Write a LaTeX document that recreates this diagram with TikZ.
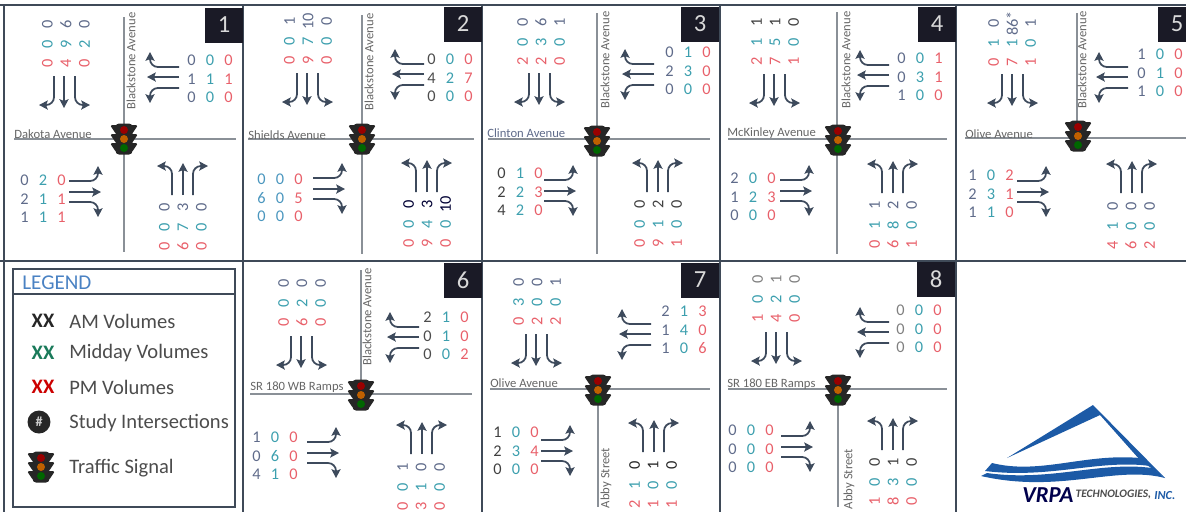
\documentclass[tikz,border=0pt]{standalone}
\usepackage{fontspec}
\setmainfont{Carlito}
\usepackage{xcolor}
\usepackage{tikz}
\usetikzlibrary{arrows.meta,positioning}

\definecolor{amcol}{HTML}{5F6B8A}
\definecolor{midcol}{HTML}{3C9FAE}
\definecolor{pmcol}{HTML}{E8606A}
\definecolor{turncol}{HTML}{3D4A5C}
\definecolor{roadcol}{HTML}{8A9097}
\definecolor{framecol}{HTML}{3F4A58}
\definecolor{logoblue}{HTML}{1C5AA6}
\definecolor{legendblue}{HTML}{4A82C3}
\definecolor{boxcol}{HTML}{1A1A26}
\definecolor{keygreen}{HTML}{1A7A5A}
\definecolor{paleblue}{HTML}{4A96BE}

% volumes read across: AM, midday, PM by column
\newcommand{\hvols}[4]{
  \foreach \v [count=\i from 0] in {#4}{
    \pgfmathtruncatemacro\volcol{mod(\i,3)}
    \pgfmathtruncatemacro\volrow{div(\i,3)}
    \node[vol, vol\volcol] (#1-\i) at ({#2+(\volcol-1)*18.5},{#3+(\volrow-1)*18.5}) {\v};
  }
}
% volumes turned on their side: AM, midday, PM by row
\newcommand{\vvols}[4]{
  \foreach \v [count=\i from 0] in {#4}{
    \pgfmathtruncatemacro\volcol{mod(\i,3)}
    \pgfmathtruncatemacro\volrow{div(\i,3)}
    \node[vol, vol\volrow, rotate=90] (#1-\i) at ({#2+(\volcol-1)*18.5},{#3+(\volrow-1)*19.5}) {\v};
  }
}
\newcommand{\turns}[4]{
  \begin{scope}[shift={(#2,#3)},rotate=#4]
    \coordinate (#1-la) at (-10,0);
    \coordinate (#1-lb) at (-10,29);
    \coordinate (#1-lc) at (-25,29);
    \coordinate (#1-ca) at (0,0);
    \coordinate (#1-cb) at (0,32);
    \coordinate (#1-ra) at (11,0);
    \coordinate (#1-rb) at (11,29);
    \coordinate (#1-rc) at (26,29);
    \draw[turn] (#1-la) -- (#1-lb) -- (#1-lc);
    \draw[turn] (#1-ca) -- (#1-cb);
    \draw[turn] (#1-ra) -- (#1-rb) -- (#1-rc);
  \end{scope}
}
\newcommand{\trafficsignal}[3]{
  \begin{scope}[shift={(#2,#3)}]
    \foreach \y in {-9,0,9}
      \fill[black!85, rounded corners=1pt] (-14,\y-5) -- (14,\y-5) -- (8,\y+4) -- (-8,\y+4) -- cycle;
    \node[sigbody] (#1) at (0,0) {};
    \node[siglight, fill=red!60!black] (#1-r) at (0,-9) {};
    \node[siglight, fill=orange!75!black] (#1-a) at (0,0) {};
    \node[siglight, fill=green!40!black] (#1-g) at (0,9) {};
  \end{scope}
}
\newcommand{\arm}[4]{
  \coordinate (#1-#2) at (#3,#4);
  \draw[road] (#1-c) -- (#1-#2);
}

\begin{document}
\begin{tikzpicture}[
  x=0.02cm, y=-0.02cm,
  frame/.style={draw=framecol, line width=0.8pt},
  road/.style={draw=roadcol, line width=0.9pt},
  turn/.style={draw=turncol, line width=1pt, rounded corners=4.5pt,
    -{Stealth[length=5pt,width=5.2pt,inset=1pt]}},
  vol/.style={font=\fontsize{9.3}{10}\selectfont, inner sep=0pt},
  vol0/.style={text=amcol},
  vol1/.style={text=midcol},
  vol2/.style={text=pmcol},
  sigbody/.style={fill=black!85, rounded corners=2pt, inner sep=0pt,
    minimum width=0.34cm, minimum height=0.62cm},
  siglight/.style={circle, inner sep=0pt, minimum size=0.16cm},
  numbox/.style={fill=boxcol, text=white!85!black, inner sep=0pt,
    minimum width=0.76cm, minimum height=0.7cm,
    font=\fontsize{14}{16}\selectfont},
  street/.style={font=\fontsize{7.2}{8}\selectfont, text=black!60, inner sep=0pt},
  legendtxt/.style={font=\fontsize{11.7}{13}\selectfont, text=black!70, anchor=west, inner sep=0pt},
  legendkey/.style={font=\bfseries\fontsize{11.7}{13}\selectfont, inner sep=0pt}
]
\useasboundingbox (0,0) rectangle (1186,512);

\foreach \x in {4,243,482,720,956}
  \draw[frame] (\x,5) -- (\x,512);
\draw[frame] (0,5) -- (1186,5);
\draw[frame] (0,261) -- (1186,261);

% 1
\coordinate (p1-c) at (124,139);
\arm{p1}{n}{124}{17} \arm{p1}{s}{124}{252} \arm{p1}{w}{14}{139} \arm{p1}{e}{236}{139}
\trafficsignal{p1-sig}{124}{139}
\node[numbox] (p1-num) at (224,25) {1};
\node[street, anchor=west] (p1-ew) at (14,134) {Dakota Avenue};
\node[street, rotate=90] (p1-ns) at (131,61) {Blackstone Avenue};
\vvols{p1-nv}{66}{44}{0,6,0,0,9,2,0,4,0}
\hvols{p1-ev}{210}{79}{0,0,0,1,1,1,0,0,0}
\hvols{p1-wv}{43}{199}{0,2,0,2,1,1,1,1,1}
\vvols{p1-sv}{183}{227}{0,3,0,0,7,0,0,6,0}
\turns{p1-nt}{64}{76}{0}
\turns{p1-et}{179}{77}{-90}
\turns{p1-wt}{69}{192}{90}
\turns{p1-st}{183}{195}{180}

% 2
\coordinate (p2-c) at (362,139);
\arm{p2}{n}{362}{15} \arm{p2}{s}{362}{254} \arm{p2}{w}{248}{139} \arm{p2}{e}{474}{139}
\trafficsignal{p2-sig}{362}{139}
\node[numbox] (p2-num) at (463,24) {2};
\node[street, anchor=west] (p2-ew) at (248,135) {Shields Avenue};
\node[street, rotate=90] (p2-ns) at (369,62) {Blackstone Avenue};
\vvols{p2-nv}{308}{41}{1,10,0,0,7,0,0,9,0}
{\colorlet{amcol}{black!70}\hvols{p2-ev}{450}{78}{0,0,0,4,2,7,0,0,0}}
{\colorlet{amcol}{paleblue}\colorlet{midcol}{paleblue}\hvols{p2-wv}{280}{198}{0,0,0,6,0,5,0,0,0}}
{\colorlet{amcol}{black!80!blue}\vvols{p2-sv}{427}{224}{0,3,10,0,4,0,0,9,0}}
\turns{p2-nt}{307}{73}{0}
\turns{p2-et}{424}{74}{-90}
\turns{p2-wt}{313}{189}{90}
\turns{p2-st}{427}{192}{180}

% 3
\coordinate (p3-c) at (597,139);
\arm{p3}{n}{597}{13} \arm{p3}{s}{597}{254} \arm{p3}{w}{488}{139} \arm{p3}{e}{710}{139}
\trafficsignal{p3-sig}{597}{141}
\node[numbox] (p3-num) at (700,24) {3};
\node[street, anchor=west, text=amcol] (p3-ew) at (487,133) {Clinton Avenue};
\node[street, rotate=90] (p3-ns) at (605,60) {Blackstone Avenue};
\vvols{p3-nv}{541}{42}{0,6,1,0,3,0,2,2,0}
\hvols{p3-ev}{688}{71}{0,1,0,2,3,0,0,0,0}
{\colorlet{amcol}{black!75}\hvols{p3-wv}{520}{192}{0,1,0,2,2,3,4,2,0}}
{\colorlet{amcol}{black!75}\vvols{p3-sv}{658}{224}{0,2,0,0,1,0,0,9,1}}
\turns{p3-nt}{539}{73}{0}
\turns{p3-et}{654}{74}{-90}
\turns{p3-wt}{544}{191}{90}
\turns{p3-st}{658}{192}{180}

% 4
\coordinate (p4-c) at (837,139);
\arm{p4}{n}{837}{12} \arm{p4}{s}{837}{254} \arm{p4}{w}{728}{139} \arm{p4}{e}{947}{139}
\trafficsignal{p4-sig}{838}{140}
\node[numbox] (p4-num) at (937,24) {4};
\node[street, anchor=west] (p4-ew) at (727,133) {McKinley Avenue};
\node[street, rotate=90] (p4-ns) at (846,60) {Blackstone Avenue};
{\colorlet{amcol}{black!75}\vvols{p4-nv}{775}{42}{1,1,0,1,5,0,2,7,1}}
\hvols{p4-ev}{920}{77}{0,0,1,0,3,1,1,0,0}
\hvols{p4-wv}{753}{197}{2,0,0,1,2,3,0,0,0}
\vvols{p4-sv}{893}{225}{1,2,0,1,8,0,0,6,1}
\turns{p4-nt}{774}{74}{0}
\turns{p4-et}{889}{75}{-90}
\turns{p4-wt}{780}{191}{90}
\turns{p4-st}{893}{193}{180}

% 5
\coordinate (p5-c) at (1077,138);
\arm{p5}{n}{1077}{13} \arm{p5}{w}{965}{138} \arm{p5}{e}{1186}{138}
\trafficsignal{p5-sig}{1078}{136}
\node[numbox] (p5-num) at (1177,24) {5};
\node[street, anchor=west] (p5-ew) at (965,134) {Olive Avenue};
\node[street, rotate=90] (p5-ns) at (1082,60) {Blackstone Avenue};
\vvols{p5-nv}{1012}{43}{0,86*,1,1,1,0,0,7,1}
\hvols{p5-ev}{1160}{73}{1,0,0,0,1,0,1,0,0}
\hvols{p5-wv}{991}{194}{1,0,2,2,3,1,1,1,0}
\vvols{p5-sv}{1131}{226}{0,0,0,1,0,0,4,6,2}
\turns{p5-nt}{1012}{74}{0}
\turns{p5-et}{1128}{77}{-90}
\turns{p5-wt}{1017}{192}{90}
\turns{p5-st}{1132}{193}{180}

% legend
\node[draw=framecol, line width=0.8pt, minimum width=4.44cm, minimum height=4.76cm, inner sep=0pt] (legend) at (124,388) {};
\coordinate (legend-a) at (13,294);
\coordinate (legend-b) at (235,294);
\draw[frame] (legend-a) -- (legend-b);
\node[font=\fontsize{12}{14}\selectfont, text=legendblue, anchor=west, inner sep=0pt] (legend-title) at (22,283) {LEGEND};
\node[legendkey, text=black!85] (key-am) at (43,321) {XX};
\node[legendkey, text=keygreen] (key-mid) at (43,353) {XX};
\node[legendkey, text=red!80!black] (key-pm) at (43,387) {XX};
\node[circle, fill=black!85, text=white!80!black, inner sep=0pt, minimum size=0.46cm,
  font=\bfseries\fontsize{8}{9}\selectfont] (key-study) at (39,422) {\#};
\trafficsignal{key-sig}{41}{467}
\node[legendtxt] (txt-am) at (69,321) {AM Volumes};
\node[legendtxt] (txt-mid) at (69,353) {Midday Volumes};
\node[legendtxt] (txt-pm) at (69,387) {PM Volumes};
\node[legendtxt] (txt-study) at (69,423) {Study Intersections};
\node[legendtxt] (txt-sig) at (69,468) {Traffic Signal};

% 6
\coordinate (p6-c) at (361,394);
\arm{p6}{n}{361}{270} \arm{p6}{w}{250}{394} \arm{p6}{e}{472}{394}
\trafficsignal{p6-sig}{361}{395}
\node[numbox] (p6-num) at (463,280) {6};
\node[street, anchor=west] (p6-ew) at (250,387) {SR 180 WB Ramps};
\node[street, rotate=90] (p6-ns) at (367,317) {Blackstone Avenue};
\vvols{p6-nv}{302}{303}{0,0,0,0,2,0,0,6,0}
{\colorlet{amcol}{black!70}\hvols{p6-ev}{446}{336}{2,1,0,0,1,0,0,0,2}}
\hvols{p6-wv}{275}{456}{1,0,0,0,6,0,4,1,0}
\vvols{p6-sv}{421}{487}{1,0,0,0,1,0,0,3,0}
\turns{p6-nt}{301}{336}{0}
\turns{p6-et}{419}{337}{-90}
\turns{p6-wt}{307}{453}{90}
\turns{p6-st}{422}{454}{180}

% 7
\coordinate (p7-c) at (598,389);
\arm{p7}{s}{598}{507} \arm{p7}{w}{490}{389} \arm{p7}{e}{710}{389}
\trafficsignal{p7-sig}{598}{390}
\node[numbox] (p7-num) at (700,280) {7};
\node[street, anchor=west] (p7-ew) at (490,383) {Olive Avenue};
\node[street, rotate=90] (p7-ns) at (606,478) {Abby Street};
\vvols{p7-nv}{537}{302}{0,0,1,3,0,0,0,2,2}
\hvols{p7-ev}{684}{330}{2,1,3,1,4,0,1,0,6}
{\colorlet{amcol}{black!75}\hvols{p7-wv}{516}{451}{1,0,0,2,3,4,0,0,0}}
{\colorlet{amcol}{black!85}\vvols{p7-sv}{653}{485}{0,1,0,1,0,0,2,1,1}}
\turns{p7-nt}{536}{334}{0}
\turns{p7-et}{651}{334}{-90}
\turns{p7-wt}{541}{451}{90}
\turns{p7-st}{654}{452}{180}

% 8
\coordinate (p8-c) at (838,389);
\arm{p8}{s}{838}{507} \arm{p8}{w}{728}{389} \arm{p8}{e}{947}{389}
\trafficsignal{p8-sig}{838}{390}
\node[numbox] (p8-num) at (936,279) {8};
\node[street, anchor=west] (p8-ew) at (727,384) {SR 180 EB Ramps};
\node[street, rotate=90] (p8-ns) at (849,479) {Abby Street};
{\colorlet{amcol}{black!50}\vvols{p8-nv}{776}{299}{0,1,0,0,2,0,1,4,0}}
{\colorlet{amcol}{black!50}\hvols{p8-ev}{919}{329}{0,0,0,0,0,0,0,0,0}}
\hvols{p8-wv}{751}{449}{0,0,0,0,0,0,0,0,0}
{\colorlet{amcol}{black!75}\vvols{p8-sv}{893}{482}{0,1,0,0,3,0,1,8,0}}
\turns{p8-nt}{776}{332}{0}
\turns{p8-et}{889}{332}{-90}
\turns{p8-wt}{781}{447}{90}
\turns{p8-st}{893}{450}{180}

% logo
\fill[logoblue] (1007,458) -- (1093,405) -- (1165,478) -- (1140,460) -- (1100,415) -- cycle;
\fill[logoblue] (992,463) .. controls (1040,475) and (1085,453) .. (1140,458)
  -- (1150,466) .. controls (1100,459) and (1050,479) .. (985,471) -- cycle;
\fill[logoblue] (987,473) .. controls (1050,482) and (1100,461) .. (1152,468)
  -- (1165,478) .. controls (1115,465) and (1060,494) .. (981,476) -- cycle;
\node[font=\bfseries\itshape\fontsize{13}{14}\selectfont, text=black!70!blue, anchor=west, inner sep=0pt] (logo-a) at (1022,495) {VRPA};
\node[font=\bfseries\itshape\fontsize{6.5}{7}\selectfont, text=black!70, right=0.03cm of logo-a, inner sep=0pt] (logo-b) {TECHNOLOGIES,};
\node[font=\bfseries\itshape\fontsize{7}{8}\selectfont, text=logoblue, right=0.05cm of logo-b, inner sep=0pt] (logo-c) {INC.};
\end{tikzpicture}
\end{document}
